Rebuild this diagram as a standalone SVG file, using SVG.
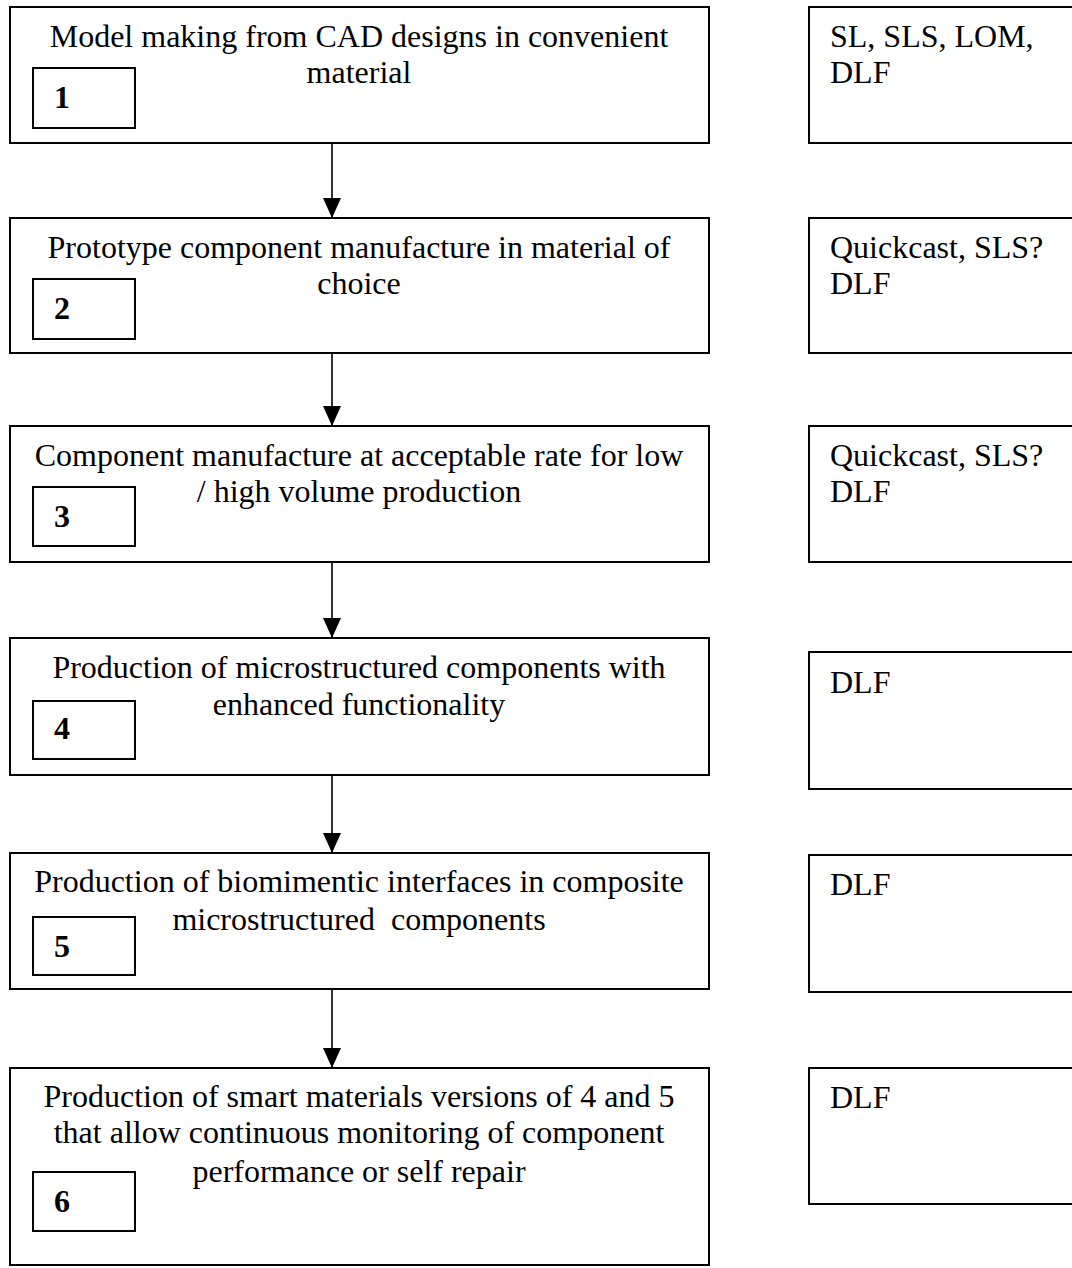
<svg xmlns="http://www.w3.org/2000/svg" width="1072" height="1268" viewBox="0 0 1072 1268">
<style>
.box{fill:#fff;stroke:#000;stroke-width:2}
.num{fill:#fff;stroke:#000;stroke-width:2}
.t{font-family:"Liberation Serif","Times New Roman",serif;font-size:32px;fill:#000}
.c{text-anchor:middle}
.b{font-weight:bold}
.conn{stroke:#000;stroke-width:1.6;fill:none}
</style>
<defs>
<marker id="ah" viewBox="0 0 20 18" refX="20" refY="9" markerWidth="20" markerHeight="18" markerUnits="userSpaceOnUse" orient="auto">
<path d="M0,0 L20,9 L0,18 Z" fill="#000"/>
</marker>
</defs>
<rect width="1072" height="1268" fill="#fff"/>
<g id="connectors">
<line class="conn" x1="332" y1="143" x2="332" y2="218" marker-end="url(#ah)"/>
<line class="conn" x1="332" y1="353" x2="332" y2="426" marker-end="url(#ah)"/>
<line class="conn" x1="332" y1="562" x2="332" y2="638" marker-end="url(#ah)"/>
<line class="conn" x1="332" y1="775" x2="332" y2="853" marker-end="url(#ah)"/>
<line class="conn" x1="332" y1="989" x2="332" y2="1068" marker-end="url(#ah)"/>
</g>
<g id="step1">
<rect class="box" x="10" y="7" width="699" height="136"/>
<text class="t c" x="359" y="47">Model making from CAD designs in convenient</text>
<text class="t c" x="359" y="83">material</text>
<rect class="num" x="33" y="68" width="102" height="60"/>
<text class="t b" x="54" y="108">1</text>
</g>
<g id="step2">
<rect class="box" x="10" y="218" width="699" height="135"/>
<text class="t c" x="359" y="258">Prototype component manufacture in material of</text>
<text class="t c" x="359" y="294">choice</text>
<rect class="num" x="33" y="279" width="102" height="60"/>
<text class="t b" x="54" y="319">2</text>
</g>
<g id="step3">
<rect class="box" x="10" y="426" width="699" height="136"/>
<text class="t c" x="359" y="466">Component manufacture at acceptable rate for low</text>
<text class="t c" x="359" y="502">/ high volume production</text>
<rect class="num" x="33" y="487" width="102" height="59"/>
<text class="t b" x="54" y="527">3</text>
</g>
<g id="step4">
<rect class="box" x="10" y="638" width="699" height="137"/>
<text class="t c" x="359" y="678">Production of microstructured components with</text>
<text class="t c" x="359" y="715">enhanced functionality</text>
<rect class="num" x="33" y="701" width="102" height="58"/>
<text class="t b" x="54" y="739">4</text>
</g>
<g id="step5">
<rect class="box" x="10" y="853" width="699" height="136"/>
<text class="t c" x="359" y="892">Production of biomimentic interfaces in composite</text>
<text class="t c" x="359" y="930">microstructured&#160; components</text>
<rect class="num" x="33" y="917" width="102" height="58"/>
<text class="t b" x="54" y="957">5</text>
</g>
<g id="step6">
<rect class="box" x="10" y="1068" width="699" height="197"/>
<text class="t c" x="359" y="1107">Production of smart materials versions of 4 and 5</text>
<text class="t c" x="359" y="1143">that allow continuous monitoring of component</text>
<text class="t c" x="359" y="1182">performance or self repair</text>
<rect class="num" x="33" y="1172" width="102" height="59"/>
<text class="t b" x="54" y="1212">6</text>
</g>
<g id="tech1">
<rect class="box" x="809" y="7" width="300" height="136"/>
<text class="t" x="830" y="47">SL, SLS, LOM,</text>
<text class="t" x="830" y="83">DLF</text>
</g>
<g id="tech2">
<rect class="box" x="809" y="218" width="300" height="135"/>
<text class="t" x="830" y="258">Quickcast, SLS?</text>
<text class="t" x="830" y="294">DLF</text>
</g>
<g id="tech3">
<rect class="box" x="809" y="426" width="300" height="136"/>
<text class="t" x="830" y="466">Quickcast, SLS?</text>
<text class="t" x="830" y="502">DLF</text>
</g>
<g id="tech4">
<rect class="box" x="809" y="652" width="300" height="137"/>
<text class="t" x="830" y="693">DLF</text>
</g>
<g id="tech5">
<rect class="box" x="809" y="855" width="300" height="137"/>
<text class="t" x="830" y="895">DLF</text>
</g>
<g id="tech6">
<rect class="box" x="809" y="1068" width="300" height="136"/>
<text class="t" x="830" y="1108">DLF</text>
</g>
</svg>
